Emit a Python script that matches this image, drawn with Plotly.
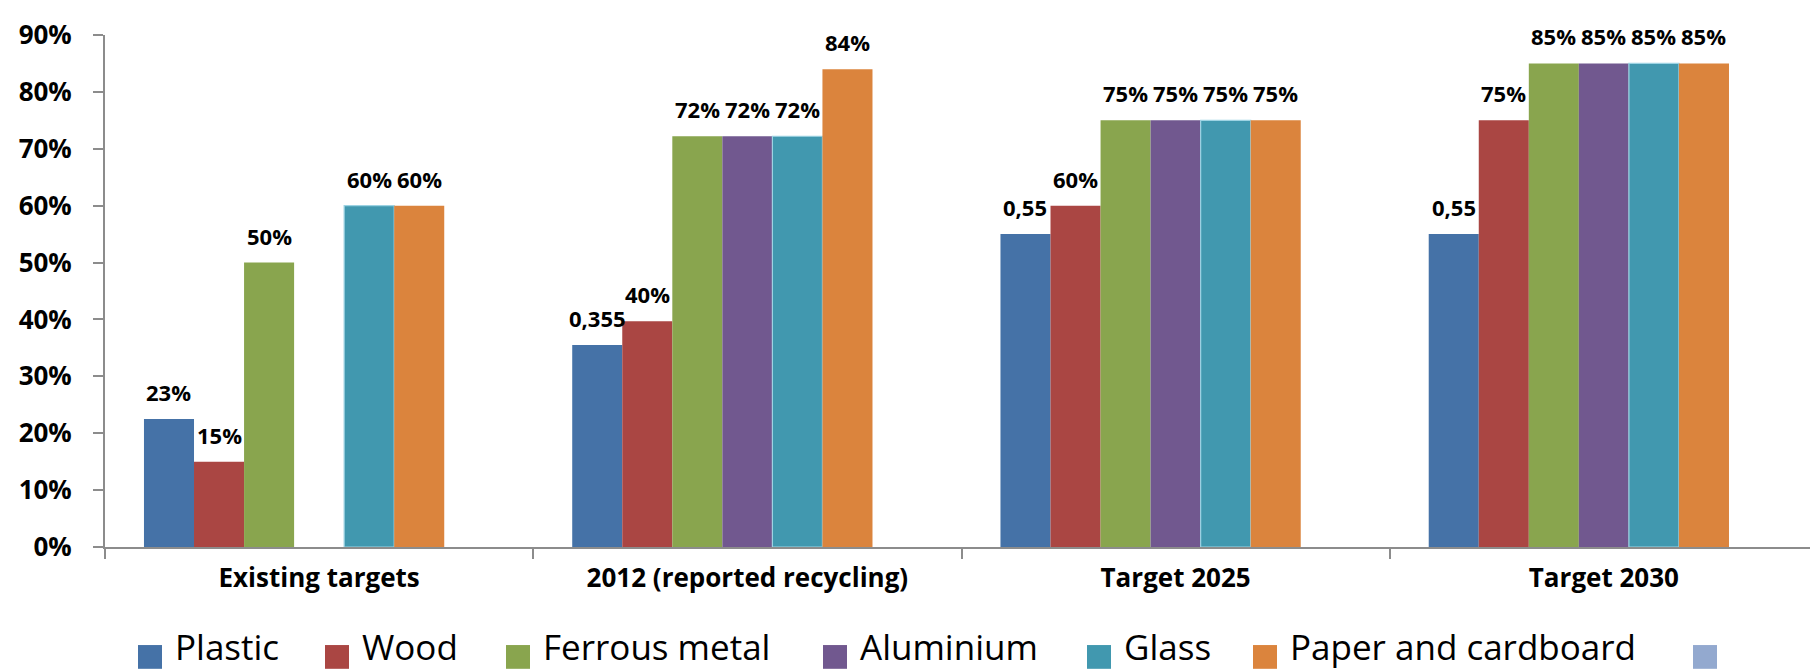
import plotly.graph_objects as go

categories = ["Existing targets", "2012 (reported recycling)", "Target 2025", "Target 2030"]

series_names = ["Plastic", "Wood", "Ferrous metal", "Aluminium", "Glass", "Paper and cardboard", ""]

plastic = [0.225, 0.355, 0.55, 0.55]
wood = [0.15, 0.397, 0.60, 0.75]
ferrous = [0.50, 0.722, 0.75, 0.85]
aluminium = [None, 0.722, 0.75, 0.85]
glass = [0.60, 0.722, 0.75, 0.85]
paper = [0.60, 0.84, 0.75, 0.85]
blank = [0, 0, 0, 0]

plastic_labels = ["23%", "0,355", "0,55", "0,55"]
wood_labels = ["15%", "40%", "60%", "75%"]
ferrous_labels = ["50%", "72%", "75%", "85%"]
aluminium_labels = [None, "72%", "75%", "85%"]
glass_labels = ["60%", "72%", "75%", "85%"]
paper_labels = ["60%", "84%", "75%", "85%"]
blank_labels = [None, None, None, None]

y_ticks = [0, 0.1, 0.2, 0.3, 0.4, 0.5, 0.6, 0.7, 0.8, 0.9]

series_values = [plastic, wood, ferrous, aluminium, glass, paper, blank]
series_labels = [plastic_labels, wood_labels, ferrous_labels, aluminium_labels,
                 glass_labels, paper_labels, blank_labels]
colors = ["#4572A7", "#AA4643", "#89A54E", "#71588F", "#4198AF", "#DB843D", "#93A9CF"]
line_colors = ["#4572A7", "#AA4643", "#89A54E", "#71588F", "#9DD3E3", "#DB843D", "#93A9CF"]

W, H = 1818, 669
L, R, T, B = 97, 8, 22, 130
plot_w = W - L - R
plot_h = H - T - B
BARGAP = 0.182
n_series = len(series_names)
bar_px = plot_w / len(categories) * (1 - BARGAP) / n_series

BOLD = "Open Sans"

fig = go.Figure()
for name, vals, col, lc in zip(series_names, series_values, colors, line_colors):
    fig.add_trace(go.Bar(
        x=categories, y=vals, name=name,
        marker=dict(color=col, line=dict(color=lc, width=1.2 if lc != col else 0)),
        showlegend=False,
    ))

annotations = []
for i, (vals, labs) in enumerate(zip(series_values, series_labels)):
    for cat, v, lab in zip(categories, vals, labs):
        if lab is None or v is None:
            continue
        annotations.append(dict(
            x=cat, y=v, xref="x", yref="y", text="<b>%s</b>" % lab,
            showarrow=False, xanchor="center", yanchor="bottom",
            xshift=(i - (n_series - 1) / 2) * bar_px, yshift=10,
            font=dict(family=BOLD, size=22, color="#000000"),
        ))

# legend drawn manually with large square keys
legend_x = [130, 317, 498, 815, 1079, 1245, 1685]
key = 24
legend_center_px = 650
shapes = []
for name, col, lx in zip(series_names, colors, legend_x):
    x0 = (lx - L) / plot_w
    x1 = (lx + key - L) / plot_w
    y0 = (T + plot_h - (legend_center_px + key / 2)) / plot_h
    y1 = (T + plot_h - (legend_center_px - key / 2)) / plot_h
    shapes.append(dict(type="rect", xref="paper", yref="paper", x0=x0, x1=x1,
                       y0=y0, y1=y1, fillcolor=col, line=dict(width=0)))
    if name:
        annotations.append(dict(
            x=(lx + key + 11 - L) / plot_w,
            y=(T + plot_h - (legend_center_px - 11)) / plot_h,
            xref="paper", yref="paper", text=name, showarrow=False,
            xanchor="left", yanchor="middle",
            font=dict(family="Open Sans", size=35, color="#000000"),
        ))

fig.update_layout(
    width=W, height=H,
    margin=dict(l=L, r=R, t=T, b=B),
    paper_bgcolor="white", plot_bgcolor="white",
    barmode="group", bargap=BARGAP, bargroupgap=0,
    showlegend=False,
    annotations=annotations, shapes=shapes,
    xaxis=dict(
        type="category", showline=True, linecolor="#8C8C8C", linewidth=2,
        ticks="outside", tickson="boundaries", ticklen=10, tickcolor="#8C8C8C",
        tickwidth=2, showgrid=False, zeroline=False,
        tickfont=dict(family=BOLD, size=26, color="#000000", weight="bold"),
        ticklabelstandoff=7,
    ),
    yaxis=dict(
        range=[0, 0.9], tickvals=y_ticks, tickformat=".0%",
        showline=True, linecolor="#8C8C8C", linewidth=2,
        ticks="outside", ticklen=10, tickcolor="#8C8C8C", tickwidth=2,
        showgrid=False, zeroline=False,
        tickfont=dict(family=BOLD, size=26, color="#000000", weight="bold"),
        ticklabelstandoff=16,
    ),
)

fig.write_html("out.html")
